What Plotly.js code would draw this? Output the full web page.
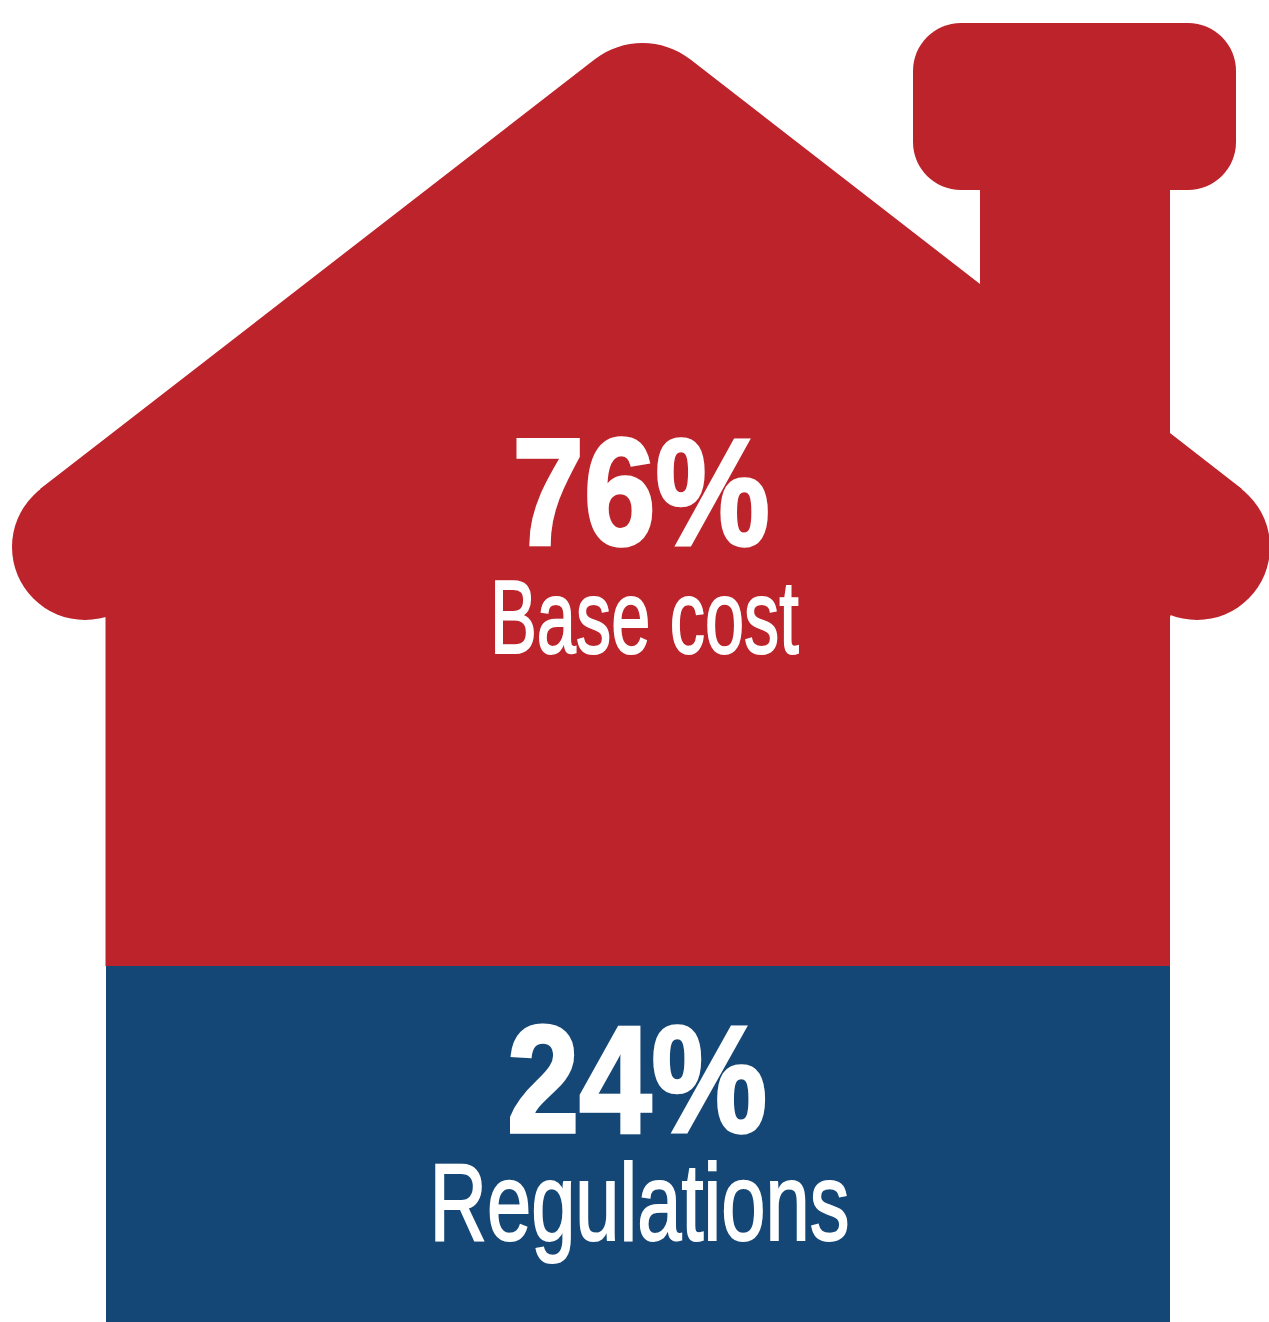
<!DOCTYPE html>
<html>
<head>
<meta charset="utf-8">
<script src="https://cdn.plot.ly/plotly-3.0.1.min.js"></script>
<style>html,body{margin:0;padding:0;background:#fff;overflow:hidden}</style>
</head>
<body>
<div id="chart" style="width:1269px;height:1322px"></div>
<script>
// Data
const categories = ["Base cost", "Regulations"];
const shares = [76, 24];

// House silhouette, in picture units (x to the right, y downward)
const wallX = [40, 594.5, 642.5, 690.5, 980, 980, 1170, 1170, 1242, 1197, 1170, 1170, 105.5, 105.5, 85];
const wallY = [489, 59.5, 22, 59.5, 284, 180, 180, 433, 489, 547, 617, 966, 966, 617, 547];
const pictureH = 1322, pictureW = 1269;
const regulationsTopY = 966;
const red = "#BD232A", blue = "#144676";

// one share unit on the value axis
const unit = (pictureH - regulationsTopY) / shares[1];
const toY = py => (pictureH - py) / unit;

function outlinePath() {
  const k = 0.59;
  const cx1 = wallX[1] + k * (wallX[2] - wallX[1]), cy1 = wallY[1] + k * (wallY[2] - wallY[1]);
  const cx2 = wallX[3] + k * (wallX[2] - wallX[3]), cy2 = wallY[3] + k * (wallY[2] - wallY[3]);
  let d = "";
  wallX.forEach((x, i) => {
    if (i === 2 || i === 3) return;
    if (i === 1) { d += `L${x},${toY(wallY[i])}C${cx1},${toY(cy1)} ${cx2},${toY(cy2)} ${wallX[3]},${toY(wallY[3])}`; return; }
    d += (i === 0 ? "M" : "L") + x + "," + toY(wallY[i]);
  });
  return d + "Z";
}
function circle(cx, cy, r) {
  return {type:"circle", xref:"x", yref:"y", x0:cx-r, x1:cx+r, y0:toY(cy+r), y1:toY(cy-r), fillcolor:red, line:{width:0}, layer:"below"};
}
function roundedRect(x0, y0, x1, y1, r) {
  const Y = toY, c = r * 0.448;
  const p = `M${x0+r},${Y(y0)}L${x1-r},${Y(y0)}C${x1-c},${Y(y0)} ${x1},${Y(y0+c)} ${x1},${Y(y0+r)}L${x1},${Y(y1-r)}C${x1},${Y(y1-c)} ${x1-c},${Y(y1)} ${x1-r},${Y(y1)}L${x0+r},${Y(y1)}C${x0+c},${Y(y1)} ${x0},${Y(y1-c)} ${x0},${Y(y1-r)}L${x0},${Y(y0+r)}C${x0},${Y(y0+c)} ${x0+c},${Y(y0)} ${x0+r},${Y(y0)}Z`;
  return {type:"path", xref:"x", yref:"y", path:p, fillcolor:red, line:{width:0}, layer:"below"};
}

const trace = {
  type: "bar",
  x: [(105.5 + 1170) / 2],
  y: [shares[1]],
  width: [1170 - 105.5],
  name: categories[1],
  marker: {color: blue, line: {width: 0}},
  hoverinfo: "skip"
};

const fam = "'Liberation Sans', Arial, sans-serif";
const big = {family: fam, size: 152, color: "#fff", weight: 700};
const mid = {family: fam, size: 104, color: "#fff"};
const lrg = {family: fam, size: 110, color: "#fff"};
const ann = (txt, x, py, font) => ({text: txt, x: x, y: toY(py), xref: "x", yref: "y", showarrow: false, font: font, xanchor: "center", yanchor: "middle"});

// the reference type is condensed: target rendered widths and strokes for each label
const labelWidths = [257, 309, 260, 420];
const labelStrokes = [3.5, 2, 3.5, 2];

const layout = {
  width: pictureW, height: pictureH,
  margin: {l: 0, r: 0, t: 0, b: 0},
  paper_bgcolor: "#fff", plot_bgcolor: "#fff",
  showlegend: false, bargap: 0,
  xaxis: {range: [0, pictureW], visible: false, fixedrange: true},
  yaxis: {range: [0, pictureH / unit], visible: false, fixedrange: true},
  shapes: [
    {type:"path", xref:"x", yref:"y", path: outlinePath(), fillcolor: red, line:{width:0}, layer:"below"},
    circle(85, 547, 73), circle(1197, 547, 73),
    roundedRect(913, 23, 1236, 190, 48)
  ],
  annotations: [
    ann("<b>" + shares[0] + "%</b>", 641, 492, big),
    ann(categories[0], 644, 617, mid),
    ann("<b>" + shares[1] + "%</b>", 637, 1079, big),
    ann(categories[1], 639, 1201, lrg)
  ]
};
Plotly.newPlot("chart", [trace], layout, {staticPlot: true, displayModeBar: false}).then(gd => {
  gd.querySelectorAll(".annotation text").forEach((t, i) => {
    const b = t.getBBox();
    const cx = b.x + b.width / 2, s = labelWidths[i] / b.width;
    t.setAttribute("transform", `translate(${cx},0) scale(${s},1) translate(${-cx},0)`);
    t.style.stroke = "#fff";
    t.style.strokeWidth = labelStrokes[i] + "px";
    t.style.strokeLinejoin = "miter";
  });
});
</script>
</body>
</html>
